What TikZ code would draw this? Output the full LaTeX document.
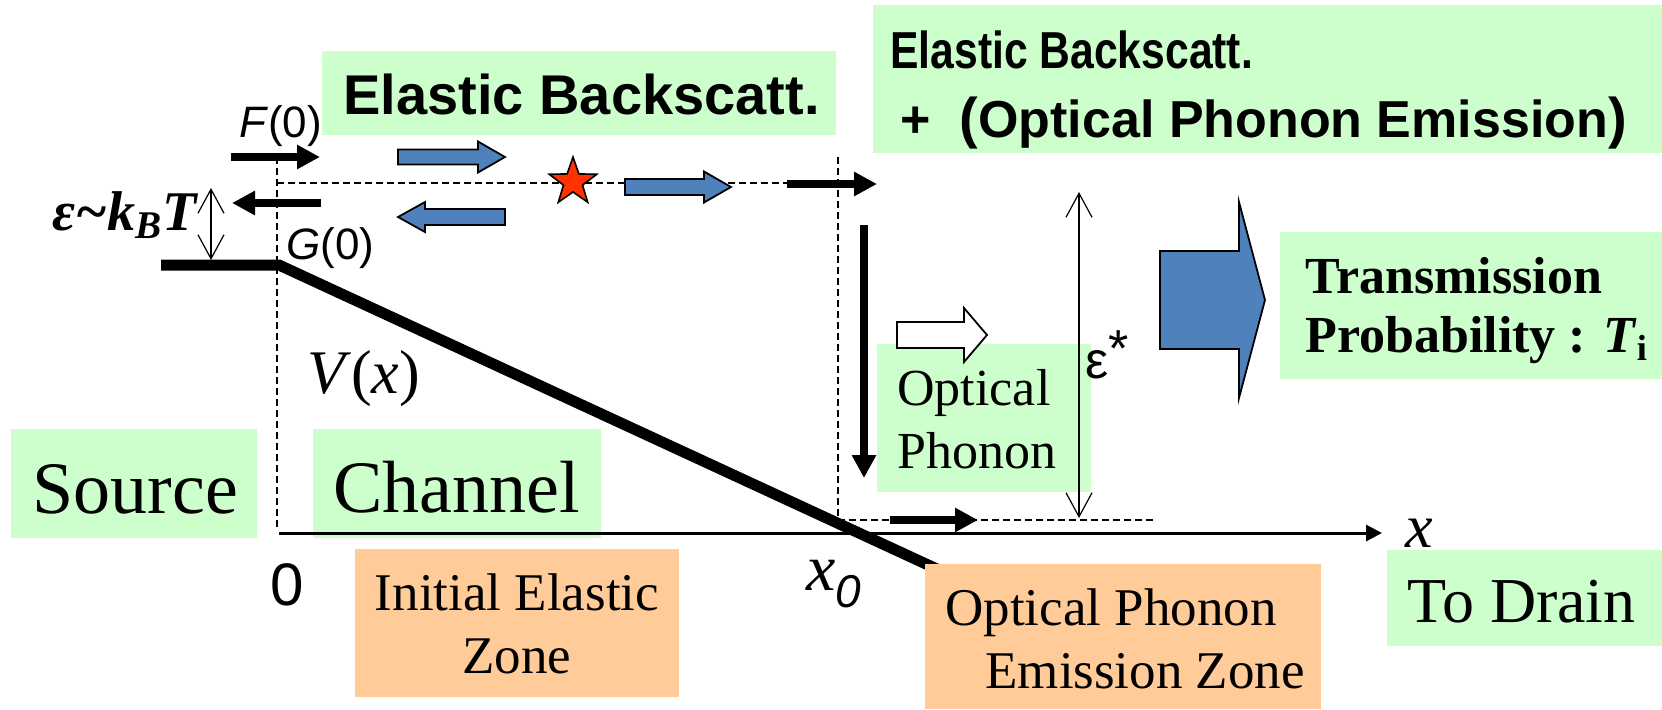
\documentclass[tikz,border=0pt]{standalone}
\usepackage{fontspec}
\setmainfont{Liberation Serif}
\setsansfont{Liberation Sans}
\usepackage{xcolor}
\usepackage{graphicx}
\usepackage{tikz}
\usetikzlibrary{arrows.meta, shapes.geometric, positioning}

\definecolor{boxgreen}{HTML}{CCFFCC}
\definecolor{boxorange}{HTML}{FFCC99}
\definecolor{arrowblue}{HTML}{4F81BD}
\definecolor{starred}{HTML}{FF3300}

% block arrow: style, tail x, head base x, tip x, y, half shaft, half head
\newcommand{\blockarrow}[7]{%
  \draw[#1] (#2,#5-#6) -- (#3,#5-#6) -- (#3,#5-#7) -- (#4,#5)
    -- (#3,#5+#7) -- (#3,#5+#6) -- (#2,#5+#6) -- cycle;}

\begin{document}
\begin{tikzpicture}[
    x=0.5pt, y=-0.5pt,
    label/.style={inner sep=0pt, anchor=base west},
    headline/.style={label, font=\sffamily\bfseries\fontsize{26}{30}\selectfont},
    bigtext/.style={label, font=\fontsize{37}{40}\selectfont},
    zonetext/.style={inner sep=0pt, font=\fontsize{26.5}{31.5}\selectfont},
    fatarrow/.style={-{Triangle[length=11.5pt,width=11.5pt]}, line width=4pt},
    gaparrow/.style={{Straight Barb[length=12pt,width=13pt]}-{Straight Barb[length=12pt,width=13pt]}, line width=0.6pt},
    guide/.style={dash pattern=on 3.5pt off 2pt, line width=0.7pt},
    bluearrow/.style={draw=black, line width=0.9pt, fill=arrowblue, line join=miter}
]
    \useasboundingbox (0,0) rectangle (1662,709);

    % Green boxes
    \fill[boxgreen] (322,51) rectangle (836,135);
    \fill[boxgreen] (873,5) rectangle (1662,153);
    \fill[boxgreen] (1280,232) rectangle (1662,379);
    \fill[boxgreen] (877,344) rectangle (1091,492);
    \fill[boxgreen] (11,429) rectangle (257,538);
    \fill[boxgreen] (313,429) rectangle (601,538);
    \fill[boxgreen] (1387,550) rectangle (1662,646);
    \fill[boxorange] (355,549) rectangle (679,697);

    % Guide lines
    \draw[guide] (277,157) -- (277,530);
    \draw[guide] (277,183) -- (787,183);
    \draw[guide] (838,157) -- (838,520) -- (1153,520);

    % x axis
    \draw[-{Triangle[length=8pt,width=8pt]}, line width=1.5pt] (279,533) -- (1382,533);

    % Potential V(x)
    \draw[line width=5.5pt, line join=miter] (161,265) -- (279,265) -- (952,576);
    \fill[boxorange] (925,564) rectangle (1321,709);

    % Fluxes
    \draw[fatarrow] (231,157) -- (320,157);
    \draw[fatarrow] (321,203) -- (232,203);
    \draw[fatarrow] (787,184) -- (877,184);
    \draw[fatarrow] (864,225) -- (864,478);
    \draw[fatarrow] (890,520) -- (978,520);

    % Energy ranges
    \draw[gaparrow] (211,188) -- (211,260);
    \draw[gaparrow] (1079,192) -- (1079,518);

    % Block arrows
    \blockarrow{bluearrow}{398}{478}{505}{157}{7.5}{15.5}
    \blockarrow{bluearrow}{505}{425}{398}{217}{8}{15}
    \blockarrow{bluearrow}{625}{704}{731}{187}{8}{15.5}
    \blockarrow{draw=black, line width=0.9pt, fill=white}{897}{964}{987}{335}{13}{27}
    \blockarrow{bluearrow}{1160}{1239}{1265}{300}{49}{98}

    % Scattering event
    \node[star, star points=5, star point ratio=2.5, minimum size=25pt, inner sep=0pt,
          fill=starred, draw=black, line width=0.8pt] (star) at (573,182) {};

    % Headings
    \node[headline, font=\sffamily\bfseries\fontsize{28}{30}\selectfont] (elastic) at (343,114) {Elastic Backscatt.};
    \node[headline] (elastictwo) at (890,68) {\scalebox{0.82}[1]{Elastic Backscatt.}};
    \node[headline] (phononemit) at (900,137) {+\ \ {\fontsize{28}{30}\selectfont(}Optical Phonon Emission{\fontsize{28}{30}\selectfont)}};

    % Region names
    \node[bigtext] (source) at (32,513) {Source};
    \node[bigtext] (channel) at (333,512) {Channel};
    \node[label, font=\fontsize{32}{34}\selectfont] (drain) at (1407,622) {To Drain};
    \node[zonetext, align=center] (initzone) at (517,623.5) {Initial Elastic\\Zone};
    \node[zonetext, align=left, anchor=west] (emitzone) at (945,638.5) {Optical Phonon\\\hspace*{20pt}Emission Zone};
    \node[inner sep=0pt, align=left, anchor=west, font=\fontsize{26}{31.5}\selectfont] (optphonon) at (897,419) {Optical\\Phonon};
    \node[inner sep=0pt, align=left, anchor=west, font=\bfseries\fontsize{26}{29.5}\selectfont] (transmit) at (1305,310.5)
        {Transmission\\Probability : \textit{T}\textsubscript{i}};

    % Symbols
    \node[label, font=\sffamily\fontsize{22}{22}\selectfont] (fzero) at (239,137) {\textit{F}(0)};
    \node[label, font=\sffamily\fontsize{22}{22}\selectfont] (gzero) at (286,259) {\textit{G}(0)};
    \node[label, font=\bfseries\itshape\fontsize{28}{28}\selectfont] (ekt) at (52,230) {ε\textasciitilde k\textsubscript{B}T};
    \node[label, font=\fontsize{31}{31}\selectfont] (vx) at (307,393) {\textit{V}(\textit{x})};
    \node[label, font=\sffamily\fontsize{26}{26}\selectfont] (estar) at (1085,378) {ε\raisebox{6pt}{*}};
    \node[inner sep=0pt, font=\sffamily\fontsize{30}{30}\selectfont] (origin) at (287,585) {0};
    \node[label, font=\itshape\fontsize{33}{33}\selectfont] (xzero) at (806,590) {x\raisebox{-8.5pt}{\sffamily\fontsize{23}{23}\selectfont 0}};
    \node[label, font=\itshape\fontsize{31}{31}\selectfont] (xaxis) at (1405,547) {x};
\end{tikzpicture}
\end{document}
